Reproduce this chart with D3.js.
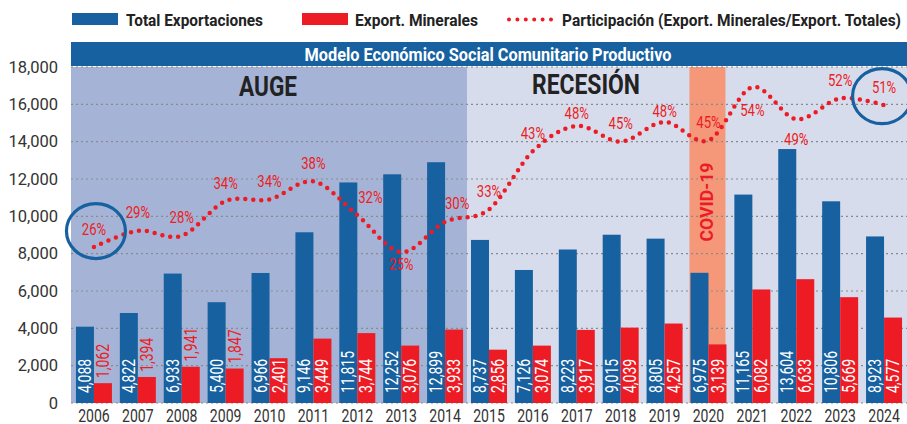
<!DOCTYPE html>
<html>
<head>
<meta charset="utf-8">
<script src="https://cdn.jsdelivr.net/npm/d3@7"></script>
<style>
  body { margin:0; background:#fff; }
  svg { display:block; font-family: Roboto, "Noto Sans", sans-serif; }
</style>
</head>
<body>
<svg id="chart" width="907" height="424"></svg>
<script>
// data
var years = [2006,2007,2008,2009,2010,2011,2012,2013,2014,2015,2016,2017,2018,2019,2020,2021,2022,2023,2024]
var totalExport = [4088,4822,6933,5400,6966,9146,11815,12252,12899,8737,7126,8223,9015,8805,6975,11165,13604,10806,8923]
var mineralExport = [1062,1394,1941,1847,2401,3449,3744,3076,3933,2856,3074,3917,4039,4257,3139,6082,6633,5669,4577]
var share = [26.0,28.9,28.0,34.2,34.5,37.7,31.7,25.1,30.5,32.7,43.1,47.6,44.8,48.3,45.0,54.5,48.8,52.5,51.3]
var shareLabels = ["26%","29%","28%","34%","34%","38%","32%","25%","30%","33%","43%","48%","45%","48%","45%","54%","49%","52%","51%"]
var yTicks = [0,2000,4000,6000,8000,10000,12000,14000,16000,18000]

var BLUE = "#1761a0", RED = "#ed1c24", TXT = "#333"

var svg = d3.select("#chart")
var fmt = d3.format(",")

var x = d3.scaleBand().domain(years).range([72, 906]).padding(0)
var y = d3.scaleLinear().domain([0, 18000]).range([403, 67])
var y2 = d3.scaleLinear().domain([-1.8, 58.1]).range([403, 67])
var cx = function(yr){ return x(yr) + x.bandwidth()/2 }
var barW = 18

// background periods
svg.append("rect").attr("x", 71).attr("y", 67).attr("width", x(2015) - 71).attr("height", 336).attr("fill", "#a5b4d6")
svg.append("rect").attr("x", x(2015)).attr("y", 67).attr("width", 907 - x(2015)).attr("height", 336).attr("fill", "#d7dcec")
svg.append("rect").attr("x", cx(2020) - 19).attr("y", 67).attr("width", 36).attr("height", 336).attr("fill", "#f5987a")

// grid
svg.append("g").selectAll("line").data(yTicks).join("line")
  .attr("x1", 71).attr("x2", 907)
  .attr("y1", function(d){ return y(d) }).attr("y2", function(d){ return y(d) })
  .attr("stroke", "#8a8a8a").attr("stroke-width", 1.2).attr("stroke-dasharray", "2,3")

// y axis labels
svg.append("g").selectAll("text").data(yTicks).join("text")
  .attr("x", 58).attr("y", function(d){ return y(d) })
  .attr("text-anchor", "end").attr("dominant-baseline", "central")
  .style("font-size", "16.5px").style("fill", TXT)
  .text(function(d){ return fmt(d) })

// period titles
svg.append("text").attr("x", 268).attr("y", 96).attr("text-anchor", "middle")
  .attr("textLength", 58).attr("lengthAdjust", "spacingAndGlyphs")
  .style("font-size", "27px").style("font-weight", "bold").style("fill", "#222").text("AUGE")
svg.append("text").attr("x", 586).attr("y", 94).attr("text-anchor", "middle")
  .attr("textLength", 108).attr("lengthAdjust", "spacingAndGlyphs")
  .style("font-size", "27px").style("font-weight", "bold").style("fill", "#222").text("RECESIÓN")
svg.append("text").attr("transform", "translate(" + (cx(2020) - 2) + ",202) rotate(-90)")
  .attr("text-anchor", "middle").attr("dominant-baseline", "central")
  .attr("textLength", 79).attr("lengthAdjust", "spacingAndGlyphs")
  .style("font-size", "19px").style("font-weight", "bold").style("fill", RED).text("COVID-19")

// bars
svg.append("g").selectAll("rect").data(years).join("rect")
  .attr("x", function(d){ return cx(d) - barW }).attr("width", barW)
  .attr("y", function(d, i){ return y(totalExport[i]) })
  .attr("height", function(d, i){ return y(0) - y(totalExport[i]) })
  .attr("fill", BLUE)
svg.append("g").selectAll("rect").data(years).join("rect")
  .attr("x", function(d){ return cx(d) }).attr("width", barW)
  .attr("y", function(d, i){ return y(mineralExport[i]) })
  .attr("height", function(d, i){ return y(0) - y(mineralExport[i]) })
  .attr("fill", RED)

// bar labels
function barLabel(xp, yp, txt, color){
  svg.append("text")
    .attr("transform", "translate(" + xp + "," + yp + ") rotate(-90) scale(0.8,1)")
    .attr("dominant-baseline", "central")
    .style("font-size", "17.5px").style("fill", color)
    .text(txt)
}
years.forEach(function(yr, i){
  barLabel(cx(yr) - barW/2, 393, fmt(totalExport[i]), "#fff")
  var h = y(0) - y(mineralExport[i])
  if (h > 42) barLabel(cx(yr) + barW/2, 393, fmt(mineralExport[i]), "#fff")
  else barLabel(cx(yr) + barW/2, y(mineralExport[i]) - 5, fmt(mineralExport[i]), RED)
})

// share line
var line = d3.line()
  .x(function(d, i){ return cx(years[i]) })
  .y(function(d){ return y2(d) })
  .curve(d3.curveCardinal.tension(0))
svg.append("path").datum(share).attr("d", line)
  .attr("fill", "none").attr("stroke", RED).attr("stroke-width", 4.5)
  .attr("stroke-linecap", "round").attr("stroke-dasharray", "0,8")

// label offsets: most sit above the point
var labelDy = { 2013: 12, 2017: -12, 2019: -10, 2021: 23, 2022: 20 }
var labelDx = { 2012: 13, 2014: 12 }
years.forEach(function(yr, i){
  var dy = labelDy[yr] !== undefined ? labelDy[yr] : -18
  var dx = labelDx[yr] || 0
  svg.append("text")
    .attr("transform", "translate(" + (cx(yr) + dx) + "," + (y2(share[i]) + dy) + ") scale(0.82,1)")
    .attr("text-anchor", "middle").attr("dominant-baseline", "central")
    .style("font-size", "16px").style("fill", RED)
    .text(shareLabels[i])
})

// highlight circles
var highlight = [2006, 2024]
highlight.forEach(function(yr){
  var i = years.indexOf(yr)
  svg.append("ellipse").attr("cx", cx(yr) + (yr == 2006 ? 2 : -2)).attr("cy", y2(share[i]) - (yr == 2006 ? 16 : 9))
    .attr("rx", 29.5).attr("ry", 27.5)
    .attr("fill", "none").attr("stroke", BLUE).attr("stroke-width", 3.2)
})

// x axis labels
svg.append("g").selectAll("text").data(years).join("text")
  .attr("transform", function(d){ return "translate(" + cx(d) + ",421.5) scale(0.78,1)" })
  .attr("text-anchor", "middle")
  .style("font-size", "18px").style("fill", TXT)
  .text(function(d){ return d })

// banner
svg.append("rect").attr("x", 71).attr("y", 42).attr("width", 836).attr("height", 24).attr("fill", BLUE)
svg.append("text").attr("x", 488).attr("y", 61).attr("text-anchor", "middle")
  .attr("textLength", 367).attr("lengthAdjust", "spacingAndGlyphs")
  .style("font-size", "18.5px").style("font-weight", "bold").style("fill", "#fff")
  .text("Modelo Económico Social Comunitario Productivo")

// legend
var lg = svg.append("g")
lg.append("rect").attr("x", 72).attr("y", 13).attr("width", 46).attr("height", 12).attr("fill", BLUE)
lg.append("text").attr("x", 126).attr("y", 25.5).attr("textLength", 137).attr("lengthAdjust", "spacingAndGlyphs")
  .style("font-size", "17px").style("font-weight", "bold").style("fill", "#222").text("Total Exportaciones")
lg.append("rect").attr("x", 302).attr("y", 13).attr("width", 46).attr("height", 12).attr("fill", RED)
lg.append("text").attr("x", 355).attr("y", 25.5).attr("textLength", 123).attr("lengthAdjust", "spacingAndGlyphs")
  .style("font-size", "17px").style("font-weight", "bold").style("fill", "#222").text("Export. Minerales")
lg.append("line").attr("x1", 509).attr("x2", 552).attr("y1", 19.5).attr("y2", 19.5)
  .attr("stroke", RED).attr("stroke-width", 4).attr("stroke-linecap", "round").attr("stroke-dasharray", "0,8.4")
lg.append("text").attr("x", 562).attr("y", 25.5).attr("textLength", 339).attr("lengthAdjust", "spacingAndGlyphs")
  .style("font-size", "17px").style("font-weight", "bold").style("fill", "#222").text("Participación (Export. Minerales/Export. Totales)")
</script>
</body>
</html>
